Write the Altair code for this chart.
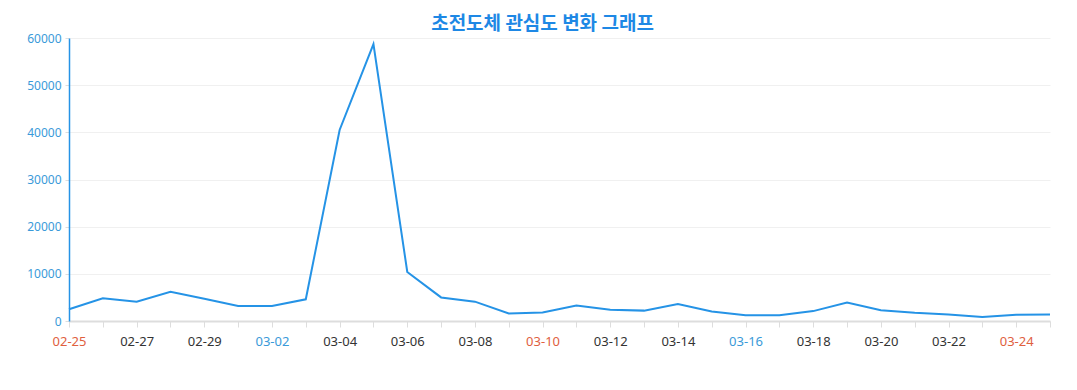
import altair as alt
import pandas as pd

dates = ["02-25", "02-26", "02-27", "02-28", "02-29", "03-01", "03-02", "03-03",
         "03-04", "03-05", "03-06", "03-07", "03-08", "03-09", "03-10", "03-11",
         "03-12", "03-13", "03-14", "03-15", "03-16", "03-17", "03-18", "03-19",
         "03-20", "03-21", "03-22", "03-23", "03-24", "03-25"]
values = [2500, 4800, 4100, 6200, 4700, 3200, 3200, 4600,
          40500, 58700, 10400, 5000, 4100, 1600, 1800, 3300,
          2400, 2200, 3600, 2000, 1200, 1200, 2100, 3900,
          2300, 1750, 1400, 850, 1300, 1400]
shown_labels = dates[::2]
sunday_labels = ["02-25", "03-10", "03-24"]
saturday_labels = ["03-02", "03-16"]
y_ticks = [0, 10000, 20000, 30000, 40000, 50000, 60000]
title_text = "초전도체 관심도 변화 그래프"

df = pd.DataFrame({"date": dates, "value": values})

def js_list(lst):
    return "[" + ",".join("'" + s + "'" for s in lst) + "]"

label_expr = f"indexof({js_list(shown_labels)}, datum.value) >= 0 ? datum.value : ''"
color_expr = (f"indexof({js_list(sunday_labels)}, datum.value) >= 0 ? '#e0603e' : "
              f"(indexof({js_list(saturday_labels)}, datum.value) >= 0 ? '#3a9ad9' : '#333333')")

chart = alt.Chart(df).mark_line(color="#2593e6", strokeWidth=2).encode(
    x=alt.X("date:O", sort=dates,
            scale=alt.Scale(type="point", padding=0),
            axis=alt.Axis(title=None, labelAngle=0, labelExpr=label_expr,
                          labelColor=alt.ExprRef(expr=color_expr),
                          labelFontSize=13, labelFont="Noto Sans", labelPadding=8,
                          domainColor="#dddddd", domainWidth=2,
                          tickColor="#dddddd", tickSize=6, grid=False)),
    y=alt.Y("value:Q", scale=alt.Scale(domain=[0, 60000], nice=False),
            axis=alt.Axis(title=None, values=y_ticks, format="d",
                          labelColor="#3a9ad9", labelFontSize=12, labelFont="Noto Sans",
                          labelPadding=4, domainColor="#2593e6", domainWidth=1.5,
                          tickColor="#dddddd", tickSize=4,
                          gridColor="#f0f0f0", gridWidth=1)),
).properties(
    width=981, height=283,
    title=alt.TitleParams(title_text, font="Noto Sans CJK KR", fontSize=19,
                          fontWeight="bold", color="#1e88e5", anchor="middle",
                          frame="group", offset=-2, dx=-17),
    padding={"left": 18, "top": 7, "right": 10, "bottom": 5},
).configure_view(stroke=None)

chart.save("out.html", embed_options={"renderer": "svg", "actions": False})
